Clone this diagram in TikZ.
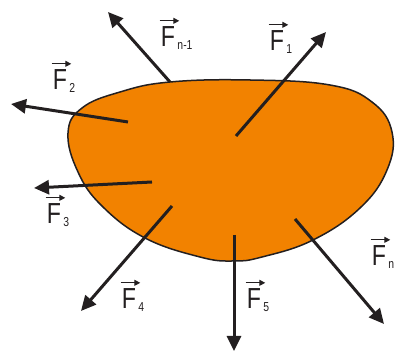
\documentclass[tikz,border=0pt]{standalone}
\usepackage{fontspec}
\setmainfont{Liberation Sans}
\newfontfamily\labfont[FakeStretch=0.8]{Liberation Sans}
\usetikzlibrary{arrows.meta}
\definecolor{ink}{RGB}{35,31,32}
\definecolor{blob}{RGB}{242,130,0}
\tikzset{
  force/.style={draw=ink, line width=3pt, -{Triangle[length=15pt,width=14pt]}},
  body/.style={fill=blob, draw=ink, line width=1.5pt},
  Flet/.style={inner sep=0pt, text=ink, font=\labfont\fontsize{29}{29}\selectfont},
  Fsub/.style={inner sep=0pt, text=ink, font=\labfont\fontsize{13}{13}\selectfont, anchor=base west},
  vecarr/.style={draw=ink, line width=1pt, -{Triangle[length=6pt,width=6pt]}}
}
\newcommand{\vecF}[3]{% name, position, subscript
  \node[Flet] (#1) at #2 {F};
  \node[Fsub] (#1s) at ([xshift=2pt,yshift=-3pt]#1.base east) {#3};
  \draw[vecarr] ([shift={(-1,-6)}]#1.north west) -- ([shift={(4,-6)}]#1.north east);
}
\begin{document}
\begin{tikzpicture}[x=1pt,y=-1pt]
\useasboundingbox (0,0) rectangle (397,352);
\draw[body] plot[smooth cycle, tension=0.7] coordinates {
 (68,133) (82,108) (120,92) (170,82) (250,80) (330,85) (372,102) (392,132)
 (387,170) (360,208) (313,240) (262,257) (233,261) (200,257) (145,238) (102,206) (78,172)};
% force starts and tips
\coordinate (s1) at (236,136); \coordinate (t1) at (326,32);
\coordinate (sn1) at (170,82); \coordinate (tn1) at (108,12);
\coordinate (s2) at (128,122); \coordinate (t2) at (11,104);
\coordinate (s3) at (152,182); \coordinate (t3) at (34,188);
\coordinate (s4) at (172,206); \coordinate (t4) at (81,311);
\coordinate (s5) at (234,235); \coordinate (t5) at (234,351);
\coordinate (sn) at (295,219); \coordinate (tn) at (384,324);
\draw[force] (s1) -- (t1);
\draw[force] (sn1) -- (tn1);
\draw[force] (s2) -- (t2);
\draw[force] (s3) -- (t3);
\draw[force] (s4) -- (t4);
\draw[force] (s5) -- (t5);
\draw[force] (sn) -- (tn);
% labels
\vecF{fn1}{(168,37)}{n-1}
\vecF{f1}{(277,41)}{1}
\vecF{f2}{(60,80)}{2}
\vecF{f3}{(54,214)}{3}
\vecF{f4}{(129,299)}{4}
\vecF{f5}{(254,299)}{5}
\vecF{fn}{(379,256)}{n}
\end{tikzpicture}
\end{document}
